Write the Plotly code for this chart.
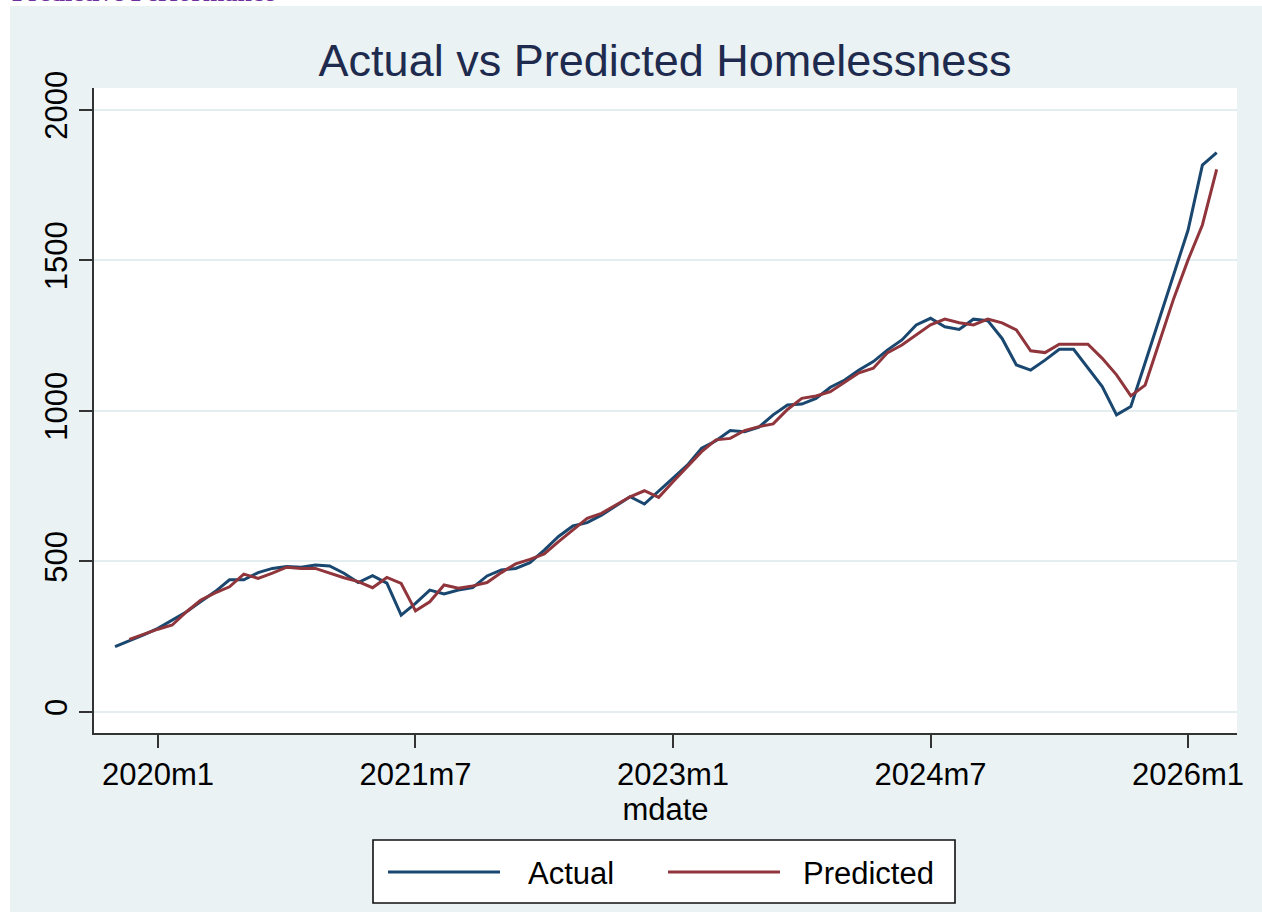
import plotly.graph_objects as go

# Monthly series, 2019m10 .. 2026m3
start_year, start_month = 2019, 10

actual = [
    217, 236, 256, 278, 306, 333, 367, 400, 439, 439,
    463, 477, 483, 481, 488, 485, 461, 430, 453, 428,
    322, 361, 405, 392, 405, 413, 452, 472, 477, 496,
    538, 583, 618, 629, 654, 684, 715, 691, 735, 776,
    820, 876, 901, 935, 931, 946, 987, 1020, 1023, 1042,
    1079, 1103, 1136, 1164, 1203, 1236, 1286, 1308, 1280, 1271,
    1305, 1300, 1241, 1153, 1136, 1169, 1205, 1205, 1145, 1081,
    987, 1015, 1160, 1308, 1455, 1601, 1817, 1858,
]

predicted = [
    None, 241, 258, 275, 289, 333, 372, 396, 416, 458,
    444, 461, 481, 477, 477, 461, 446, 433, 413, 447,
    427, 336, 366, 422, 411, 419, 430, 463, 492, 507,
    525, 566, 605, 643, 660, 688, 715, 735, 713, 765,
    815, 865, 904, 909, 935, 948, 957, 1005, 1042, 1050,
    1064, 1097, 1127, 1142, 1194, 1219, 1252, 1286, 1305, 1293,
    1286, 1305, 1293, 1269, 1200, 1194, 1222, 1222, 1222, 1175,
    1120, 1050, 1086, 1230, 1374, 1502, 1618, 1803,
]

tick_labels = ["2020m1", "2021m7", "2023m1", "2024m7", "2026m1"]
y_ticks = [0, 500, 1000, 1500, 2000]

# Stata-style monthly index: months elapsed since 2020m1
base = start_year * 12 + (start_month - 1)
mdate = [base + i - 2020 * 12 for i in range(len(actual))]


def month_index(label):
    y, m = label.split("m")
    return int(y) * 12 + int(m) - 1 - 2020 * 12


tick_vals = [month_index(t) for t in tick_labels]

W, H = 1262, 912
L, R, T, B = 94, 25, 88, 179
PW, PH = W - L - R, H - T - B


def px(x):
    return (x - L) / PW


def py(y):
    return 1 - (y - T) / PH


BG = "#eaf2f3"
GRID = "#e4edef"
BLUE = "#1a476f"
RED = "#90353b"
FONT = "Liberation Sans, Arial, sans-serif"
LW = 3

fig = go.Figure()
fig.add_trace(go.Scatter(x=mdate, y=actual, mode="lines", name="Actual",
                         line=dict(color=BLUE, width=LW), showlegend=False))
fig.add_trace(go.Scatter(x=mdate, y=predicted, mode="lines", name="Predicted",
                         line=dict(color=RED, width=LW), showlegend=False))

shapes = [
    # white page edge strips around the graph region
    dict(type="rect", xref="paper", yref="paper", x0=px(0), x1=px(10),
         y0=py(H), y1=py(0), fillcolor="white", line=dict(width=0), layer="above"),
    dict(type="rect", xref="paper", yref="paper", x0=px(0), x1=px(W),
         y0=py(6), y1=py(0), fillcolor="white", line=dict(width=0), layer="above"),
    # legend frame
    dict(type="rect", xref="paper", yref="paper", x0=px(373), x1=px(955),
         y0=py(903), y1=py(840), fillcolor="white",
         line=dict(color="#111111", width=1.6), layer="above"),
    dict(type="line", xref="paper", yref="paper", x0=px(388), x1=px(500),
         y0=py(872), y1=py(872), line=dict(color=BLUE, width=LW), layer="above"),
    dict(type="line", xref="paper", yref="paper", x0=px(668), x1=px(780),
         y0=py(872), y1=py(872), line=dict(color=RED, width=LW), layer="above"),
]

annotations = [
    dict(text="Actual", xref="paper", yref="paper", x=px(526), y=py(873),
         xanchor="left", yanchor="middle", showarrow=False,
         font=dict(family=FONT, size=31, color="#000000")),
    dict(text="Predicted", xref="paper", yref="paper", x=px(801), y=py(873),
         xanchor="left", yanchor="middle", showarrow=False,
         font=dict(family=FONT, size=31, color="#000000")),
    # page heading above the graph, running off the top of the page
    dict(text="<b>Predictive Performance</b>", xref="paper", yref="paper",
         x=px(10), y=py(-8), xanchor="left", yanchor="middle", showarrow=False,
         font=dict(family="Liberation Serif, Times New Roman, serif", size=26,
                   color="#7030a0")),
]

fig.update_layout(
    width=W, height=H,
    margin=dict(l=L, r=R, t=T, b=B, pad=0),
    paper_bgcolor=BG,
    plot_bgcolor="white",
    font=dict(family=FONT, size=31, color="#000000"),
    title=dict(text="Actual vs Predicted Homelessness", x=665 / W,
               xanchor="center", y=1 - 60 / H, yanchor="middle",
               font=dict(family=FONT, size=45, color="#1e2b4e")),
    xaxis=dict(
        range=[-4.47, 75.42],
        tickmode="array", tickvals=tick_vals, ticktext=tick_labels,
        ticks="outside", ticklen=13, tickwidth=1.5, tickcolor="#333333",
        showline=True, linecolor="#333333", linewidth=1.5,
        showgrid=False, zeroline=False,
        tickfont=dict(size=31, color="#000000"),
        title=dict(text="mdate", standoff=3, font=dict(size=31, color="#000000")),
    ),
    yaxis=dict(
        range=[-69.8, 2073],
        tickmode="array", tickvals=y_ticks,
        ticks="outside", ticklen=13, tickwidth=1.5, tickcolor="#333333",
        tickangle=-90,
        showline=True, linecolor="#333333", linewidth=1.5,
        showgrid=True, gridcolor=GRID, gridwidth=2,
        zeroline=False,
        tickfont=dict(size=31, color="#000000"),
    ),
    shapes=shapes,
    annotations=annotations,
)

fig.write_html("out.html")
